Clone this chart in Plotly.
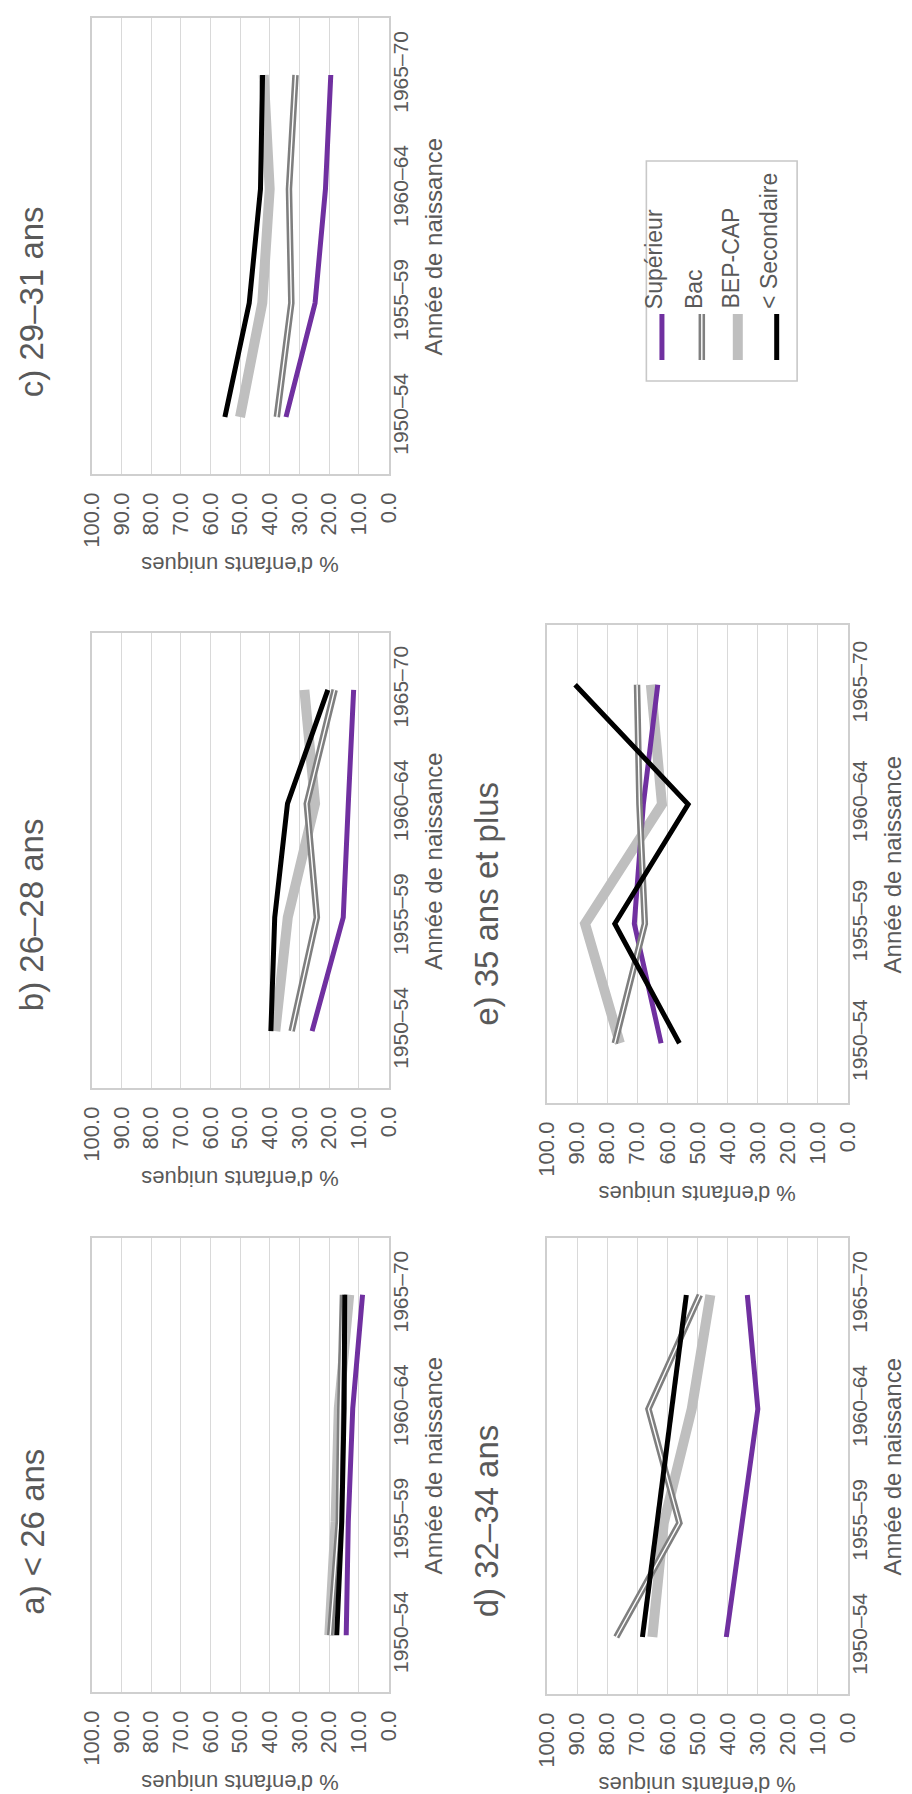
import plotly.graph_objects as go

W, H = 912, 1794

# ---- data --------------------------------------------------------------
cohorts = ["1950–54", "1955–59", "1960–64", "1965–70"]
series_names = ["Supérieur", "Bac", "BEP-CAP", "< Secondaire"]

# a) < 26 ans
a_superieur = [14.3, 13.6, 12.1, 8.8]
a_bac = [19.7, 16.8, 16.3, 15.4]
a_bepcap = [20.0, 17.9, 16.8, 13.3]
a_secondaire = [17.5, 15.8, 15.0, 14.8]

# b) 26-28 ans
b_superieur = [25.8, 15.3, 13.6, 11.8]
b_bac = [32.7, 24.2, 27.6, 18.2]
b_bepcap = [38.2, 34.0, 24.8, 28.4]
b_secondaire = [39.7, 38.4, 34.1, 20.5]

# c) 29-31 ans
c_superieur = [34.6, 24.8, 21.3, 19.5]
c_bac = [37.7, 32.8, 33.6, 31.4]
c_bepcap = [50.1, 42.6, 40.1, 42.1]
c_secondaire = [55.2, 47.0, 43.2, 42.5]

# d) 32-34 ans
d_superieur = [40.4, 35.2, 29.9, 33.4]
d_bac = [77.0, 56.0, 66.3, 49.2]
d_bepcap = [65.0, 61.2, 51.9, 45.7]
d_secondaire = [68.3, 63.4, 58.5, 53.7]

# e) 35 ans et plus
e_superieur = [62.1, 71.0, 68.0, 63.2]
e_bac = [77.5, 67.5, 69.3, 70.1]
e_bepcap = [75.8, 87.4, 61.8, 65.5]
e_secondaire = [56.0, 77.5, 53.1, 90.7]

panels = [
    ("a) < 26 ans", a_superieur, a_bac, a_bepcap, a_secondaire),
    ("b) 26–28 ans", b_superieur, b_bac, b_bepcap, b_secondaire),
    ("c) 29–31 ans", c_superieur, c_bac, c_bepcap, c_secondaire),
    ("d) 32–34 ans", d_superieur, d_bac, d_bepcap, d_secondaire),
    ("e) 35 ans et plus", e_superieur, e_bac, e_bepcap, e_secondaire),
]

# ---- layout geometry (pixels in the rotated page) ----------------------
# (left, right, top, bottom) of each plot box
boxes = [
    (73, 378, 1230, 1684),   # a
    (73, 378, 625, 1080),    # b
    (73, 378, 10, 466),      # c
    (541, 850, 1230, 1686),  # d
    (541, 850, 617, 1095),   # e
]

PURPLE = "#7030A0"
BAC = "#7f7f7f"
BEP = "#BFBFBF"
TXT = "#595959"
GRID = "#d9d9d9"
FONT = "Liberation Sans, Arial, sans-serif"


def px(x):
    return x / W


def py(y):
    return 1 - y / H


fig = go.Figure()
annotations = []
cat_pos = list(range(len(cohorts)))

for i, (title, sup, bac, bep, sec) in enumerate(panels):
    n = i + 1
    xa = "x" if n == 1 else f"x{n}"
    ya = "y" if n == 1 else f"y{n}"
    l, r, t, b = boxes[i]

    # BEP-CAP (wide light gray) drawn first
    fig.add_trace(go.Scatter(x=bep, y=cat_pos, mode="lines", xaxis=xa, yaxis=ya,
                             line=dict(color=BEP, width=10), showlegend=False,
                             hovertemplate="BEP-CAP: %{x:.1f}<extra></extra>"))
    fig.add_trace(go.Scatter(x=sup, y=cat_pos, mode="lines", xaxis=xa, yaxis=ya,
                             line=dict(color=PURPLE, width=5), showlegend=False,
                             hovertemplate="Supérieur: %{x:.1f}<extra></extra>"))
    # Bac: double line (gray outline, white core)
    fig.add_trace(go.Scatter(x=bac, y=cat_pos, mode="lines", xaxis=xa, yaxis=ya,
                             line=dict(color=BAC, width=6.5), showlegend=False,
                             hovertemplate="Bac: %{x:.1f}<extra></extra>"))
    fig.add_trace(go.Scatter(x=bac, y=cat_pos, mode="lines", xaxis=xa, yaxis=ya,
                             line=dict(color="white", width=1.4), showlegend=False,
                             hoverinfo="skip"))
    fig.add_trace(go.Scatter(x=sec, y=cat_pos, mode="lines", xaxis=xa, yaxis=ya,
                             line=dict(color="black", width=5), showlegend=False,
                             hovertemplate="< Secondaire: %{x:.1f}<extra></extra>"))

    xkey = "xaxis" if n == 1 else f"xaxis{n}"
    ykey = "yaxis" if n == 1 else f"yaxis{n}"
    fig.update_layout(**{
        xkey: dict(
            domain=[px(l), px(r)], anchor=ya, range=[100, 0],
            tickvals=list(range(0, 101, 10)), tickformat=".1f",
            tickangle=-90, ticks="", ticklabelstandoff=8,
            tickfont=dict(size=22, color=TXT, family=FONT),
            showgrid=True, gridcolor=GRID, gridwidth=1.3, zeroline=False,
            showline=True, mirror=True, linecolor="#cfcfcf", linewidth=1.6,
            fixedrange=True,
        ),
        ykey: dict(
            domain=[py(b), py(t)], anchor=xa, range=[-0.5, 3.5], side="right",
            tickvals=cat_pos, ticktext=cohorts, tickangle=-90, ticks="",
            ticklabelstandoff=-8, tickfont=dict(size=21, color=TXT, family=FONT),
            showgrid=False, zeroline=False,
            showline=True, mirror=True, linecolor="#cfcfcf", linewidth=1.6,
            fixedrange=True,
        ),
    })

    cy = (t + b) / 2
    # panel title, reading upward, starts ~75 px above the box bottom
    annotations.append(dict(
        text=title, textangle=-90, x=px(l - 62), y=py(b - 75),
        xref="paper", yref="paper", xanchor="center", yanchor="bottom",
        showarrow=False, font=dict(size=33, color=TXT, family=FONT)))
    # value-axis title (upside down, below the box)
    annotations.append(dict(
        text="% d'enfants uniques", textangle=180, x=px((l + r) / 2),
        y=py(b + 91), xref="paper", yref="paper", xanchor="center",
        yanchor="middle", showarrow=False,
        font=dict(size=22, color=TXT, family=FONT)))
    # category-axis title (reading upward, right of the labels)
    annotations.append(dict(
        text="Année de naissance", textangle=-90, x=px(r + 46), y=py(cy),
        xref="paper", yref="paper", xanchor="center", yanchor="middle",
        showarrow=False, font=dict(size=24, color=TXT, family=FONT)))

# ---- legend, drawn rotated like the rest of the page --------------------
shapes = [dict(type="rect", xref="paper", yref="paper",
               x0=px(643), x1=px(798), y0=py(373), y1=py(153),
               line=dict(color="#c8c8c8", width=1.6), fillcolor="white")]
leg_x = [659, 700, 737, 777]
leg_style = [(PURPLE, 5), (BAC, 6.5), (BEP, 10), ("black", 5)]
for name, lx, (col, w) in zip(series_names, leg_x, leg_style):
    shapes.append(dict(type="line", xref="paper", yref="paper",
                       x0=px(lx), x1=px(lx), y0=py(352), y1=py(306),
                       line=dict(color=col, width=w)))
    if name == "Bac":
        shapes.append(dict(type="line", xref="paper", yref="paper",
                           x0=px(lx), x1=px(lx), y0=py(352), y1=py(306),
                           line=dict(color="white", width=1.4)))
    annotations.append(dict(
        text=name, textangle=-90, x=px(lx - 8), y=py(303), xref="paper",
        yref="paper", showarrow=False, xanchor="center", yanchor="bottom",
        font=dict(size=23, color=TXT, family=FONT)))

fig.update_layout(
    width=W, height=H, margin=dict(l=0, r=0, t=0, b=0),
    paper_bgcolor="white", plot_bgcolor="white",
    showlegend=False, annotations=annotations, shapes=shapes,
    font=dict(family=FONT, color=TXT),
)

fig.write_html("out.html")
